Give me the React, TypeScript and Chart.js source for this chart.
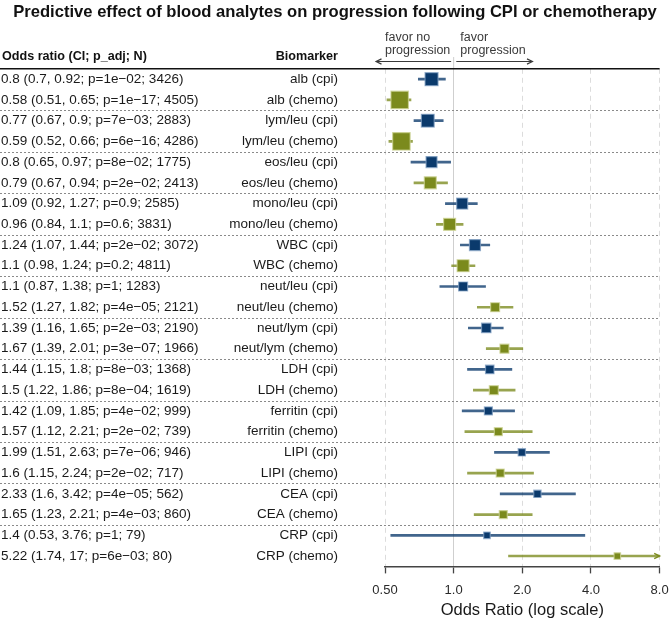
import React, { useEffect, useRef } from 'react';
import { Chart, registerables } from 'chart.js';

Chart.register(...registerables);

// ---------- data ----------
const biomarkers = ['alb', 'lym/leu', 'eos/leu', 'mono/leu', 'WBC', 'neut/leu', 'neut/lym', 'LDH', 'ferritin', 'LIPI', 'CEA', 'CRP'];
const cohorts = ['cpi', 'chemo'];
const rowLabels = biomarkers.flatMap((b) => cohorts.map((c) => `${b} (${c})`));
const rowCohort = biomarkers.flatMap(() => cohorts);

const oddsRatio = [0.8, 0.58, 0.77, 0.59, 0.8, 0.79, 1.09, 0.96, 1.24, 1.1, 1.1, 1.52, 1.39, 1.67, 1.44, 1.5, 1.42, 1.57, 1.99, 1.6, 2.33, 1.65, 1.4, 5.22];
const ciLow = [0.7, 0.51, 0.67, 0.52, 0.65, 0.67, 0.92, 0.84, 1.07, 0.98, 0.87, 1.27, 1.16, 1.39, 1.15, 1.22, 1.09, 1.12, 1.51, 1.15, 1.6, 1.23, 0.53, 1.74];
const ciHigh = [0.92, 0.65, 0.9, 0.66, 0.97, 0.94, 1.27, 1.1, 1.44, 1.24, 1.38, 1.82, 1.65, 2.01, 1.8, 1.86, 1.85, 2.21, 2.63, 2.24, 3.42, 2.21, 3.76, 17];
const pAdj = ['1e\u221202', '1e\u221217', '7e\u221203', '6e\u221216', '8e\u221202', '2e\u221202', '0.9', '0.6', '2e\u221202', '0.2', '1', '4e\u221205', '2e\u221203', '3e\u221207', '8e\u221203', '8e\u221204', '4e\u221202', '2e\u221202', '7e\u221206', '2e\u221202', '4e\u221205', '4e\u221203', '1', '6e\u221203'];
const nObs = [3426, 4505, 2883, 4286, 1775, 2413, 2585, 3831, 3072, 4811, 1283, 2121, 2190, 1966, 1368, 1619, 999, 739, 946, 717, 562, 860, 79, 80];
// relative box weight
const boxWeight = [12, 16.5, 11.8, 16.5, 10, 11, 10, 11, 10, 11, 8, 8, 8.5, 8, 7.5, 8, 7, 7, 6.3, 7, 6.3, 7, 5.5, 5.5];

const tickValues = [0.5, 1, 2, 4, 8];
const tickLabels = ['0.50', '1.0', '2.0', '4.0', '8.0'];

// ---------- styling ----------
const FONT = "'Liberation Sans', Arial, Helvetica, sans-serif";
const cohortColor: Record<string, string> = { cpi: '#0b3a6c', chemo: '#7b8a1d' };
const cohortLine: Record<string, string> = { cpi: 'rgba(11,58,108,0.78)', chemo: 'rgba(123,138,29,0.78)' };
const cohortRim: Record<string, string> = { cpi: 'rgba(130,160,195,0.75)', chemo: 'rgba(205,212,150,0.75)' };

const X_MIN = 0.5;
const X_MAX = 8;

function arrowHead(ctx: CanvasRenderingContext2D, x: number, y: number, dir: number, len: number) {
  const a = Math.PI / 7;
  ctx.beginPath();
  ctx.moveTo(x - dir * len * Math.cos(a), y - len * Math.sin(a));
  ctx.lineTo(x, y);
  ctx.lineTo(x - dir * len * Math.cos(a), y + len * Math.sin(a));
  ctx.stroke();
}

const forestDecor = {
  id: 'forestDecor',
  beforeDatasetsDraw(chart: any) {
    const { ctx, chartArea, scales } = chart;
    const y = scales.y;
    const x = scales.x;
    ctx.save();
    // separators between biomarker pairs
    ctx.strokeStyle = '#8a8a8a';
    ctx.lineWidth = 1;
    ctx.setLineDash([2, 2]);
    for (let i = 2; i < rowLabels.length; i += 2) {
      const yy = Math.round((y.getPixelForValue(i - 1) + y.getPixelForValue(i)) / 2) + 0.5;
      ctx.beginPath();
      ctx.moveTo(0, yy);
      ctx.lineTo(chartArea.right, yy);
      ctx.stroke();
    }
    ctx.setLineDash([]);
    // reference line at OR = 1 extended upward
    const x1 = x.getPixelForValue(1);
    ctx.strokeStyle = '#cfcfcf';
    ctx.lineWidth = 1;
    ctx.beginPath();
    ctx.moveTo(x1, 57);
    ctx.lineTo(x1, chartArea.top);
    ctx.stroke();
    ctx.restore();
  },
  afterDraw(chart: any) {
    const { ctx, chartArea, scales } = chart;
    const y = scales.y;
    const x = scales.x;
    ctx.save();
    // header line
    ctx.strokeStyle = '#111';
    ctx.lineWidth = 1.5;
    ctx.beginPath();
    ctx.moveTo(0, chartArea.top);
    ctx.lineTo(chartArea.right, chartArea.top);
    ctx.stroke();

    // title
    ctx.fillStyle = '#111';
    ctx.textBaseline = 'middle';
    ctx.textAlign = 'center';
    ctx.font = `bold 16.6px ${FONT}`;
    ctx.fillText('Predictive effect of blood analytes on progression following CPI or chemotherapy', chart.width / 2, 12);

    // column headers
    ctx.font = `bold 12.6px ${FONT}`;
    ctx.textAlign = 'left';
    ctx.fillText('Odds ratio (CI; p_adj; N)', 2, 57);
    ctx.textAlign = 'right';
    ctx.fillText('Biomarker', 338, 57);

    // row texts
    ctx.font = `13.5px ${FONT}`;
    ctx.fillStyle = '#1a1a1a';
    rowLabels.forEach((lab, i) => {
      const yy = y.getPixelForValue(i);
      ctx.textAlign = 'left';
      ctx.fillText(`${oddsRatio[i]} (${ciLow[i]}, ${ciHigh[i]}; p=${pAdj[i]}; ${nObs[i]})`, 1, yy);
      ctx.textAlign = 'right';
      ctx.fillText(lab, 338, yy);
    });

    // direction arrows
    const ay = 61.5;
    ctx.strokeStyle = '#3a3a3a';
    ctx.lineWidth = 1.2;
    const l0 = x.getPixelForValue(0.975);
    const l1 = x.getPixelForValue(0.457);
    const r0 = x.getPixelForValue(1.027);
    const r1 = x.getPixelForValue(2.215);
    ctx.beginPath();
    ctx.moveTo(l0, ay);
    ctx.lineTo(l1, ay);
    ctx.moveTo(r0, ay);
    ctx.lineTo(r1, ay);
    ctx.stroke();
    arrowHead(ctx, l1, ay, -1, 6);
    arrowHead(ctx, r1, ay, 1, 6);
    ctx.fillStyle = '#3a3a3a';
    ctx.font = `12.5px ${FONT}`;
    ctx.textAlign = 'left';
    ctx.fillText('favor no', x.getPixelForValue(0.5), 38);
    ctx.fillText('progression', x.getPixelForValue(0.5), 51);
    ctx.fillText('favor', x.getPixelForValue(1.07), 38);
    ctx.fillText('progression', x.getPixelForValue(1.07), 51);

    // truncated CIs
    ciHigh.forEach((hi, i) => {
      if (hi > X_MAX) {
        ctx.strokeStyle = cohortColor[rowCohort[i]];
        ctx.lineWidth = 1.4;
        arrowHead(ctx, chartArea.right, y.getPixelForValue(i), 1, 6);
      }
    });
    ctx.restore();
  },
};

export default function App() {
  const ref = useRef<HTMLCanvasElement | null>(null);
  useEffect(() => {
    if (!ref.current) return;
    Chart.defaults.font.family = FONT;
    const chart = new Chart(ref.current, {
      type: 'bar',
      data: {
        labels: rowLabels,
        datasets: [
          {
            type: 'line',
            indexAxis: 'y',
            label: 'OR',
            data: oddsRatio,
            showLine: false,
            pointStyle: 'rect',
            pointRadius: boxWeight.map((w) => (w + 1) / Math.SQRT2),
            pointBackgroundColor: rowCohort.map((c) => cohortColor[c]),
            pointBorderColor: rowCohort.map((c) => cohortRim[c]),
            pointBorderWidth: 1.2,
            order: 0,
          } as any,
          {
            type: 'bar',
            indexAxis: 'y',
            label: 'CI',
            data: rowLabels.map((_, i) => [ciLow[i], ciHigh[i]]),
            backgroundColor: rowCohort.map((c) => cohortLine[c]),
            barThickness: 2,
            grouped: false,
            order: 1,
          } as any,
        ],
      },
      options: {
        indexAxis: 'y',
        responsive: false,
        animation: false,
        events: [],
        layout: { padding: { left: 385, right: 7.5, top: 68.8, bottom: 0 } },
        plugins: { legend: { display: false }, tooltip: { enabled: false } },
        scales: {
          x: {
            type: 'logarithmic',
            position: 'bottom',
            min: X_MIN,
            max: X_MAX,
            afterBuildTicks: (s: any) => {
              s.ticks = tickValues.map((v) => ({ value: v }));
            },
            afterFit: (s: any) => {
              s.height = 51.6;
              s.paddingLeft = 0;
              s.paddingRight = 0;
            },
            ticks: {
              callback: (_v: any, i: number) => tickLabels[i],
              font: { size: 13 },
              color: '#2a2a2a',
              padding: 9,
              maxRotation: 0,
              autoSkip: false,
            },
            grid: {
              color: (c: any) => (c.tick && c.tick.value === 1 ? '#cfcfcf' : '#dcdcdc'),
              lineWidth: 1,
              drawTicks: true,
              tickLength: 7,
              tickColor: '#444',
              tickWidth: 1.3,
            },
            border: {
              display: true,
              color: '#444',
              width: 1.5,
              dash: (c: any) => (c.tick ? (c.tick.value === 1 ? [] : [5, 4]) : []),
            },
            title: {
              display: true,
              text: 'Odds Ratio (log scale)',
              font: { size: 16.5 },
              color: '#1a1a1a',
              padding: { top: 0, bottom: -2 },
            },
          } as any,
          y: {
            type: 'category',
            display: false,
            offset: true,
          },
        },
      },
      plugins: [forestDecor],
    } as any);
    return () => chart.destroy();
  }, []);
  return (
    <div style={{ position: 'fixed', left: 0, top: 0, width: 670, height: 618, background: '#fff' }}>
      <canvas ref={ref} width={670} height={618} style={{ display: 'block' }} />
    </div>
  );
}
